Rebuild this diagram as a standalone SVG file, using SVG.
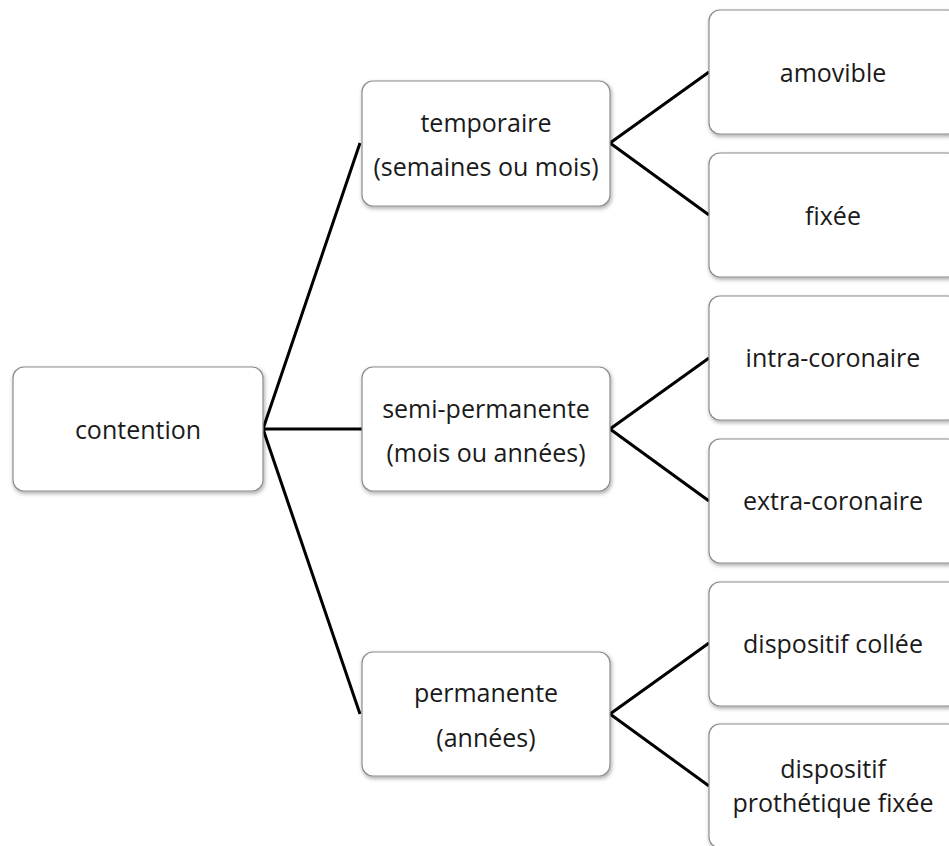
<svg xmlns="http://www.w3.org/2000/svg" width="949" height="846" viewBox="0 0 949 846">
<style>
.box{fill:#fff;stroke:#8c8c8c;stroke-width:1.2;filter:url(#sh)}
.t{font-family:"Open Sans","Noto Sans",sans-serif;font-size:25px;fill:#1a1a1a;text-anchor:middle;dominant-baseline:central}
.c{stroke:#000;stroke-width:3;fill:none}
</style>
<defs>
<filter id="sh" x="-10%" y="-10%" width="120%" height="125%">
<feGaussianBlur in="SourceAlpha" stdDeviation="2"/>
<feOffset dx="1" dy="2" result="b"/>
<feComponentTransfer><feFuncA type="linear" slope="0.35"/></feComponentTransfer>
<feMerge><feMergeNode/><feMergeNode in="SourceGraphic"/></feMerge>
</filter>
</defs>
<rect width="949" height="846" fill="#fff"/>
<g id="connectors">
<path class="c" d="M263 429 L360 143 M263 429 L362 429 M263 429 L360 714"/>
<path class="c" d="M610 143 L709 72 M610 143 L709 215"/>
<path class="c" d="M610 429 L709 358 M610 429 L709 501"/>
<path class="c" d="M610 714 L709 643 M610 714 L709 786"/>
</g>
<g id="contention"><rect class="box" x="13" y="367" width="250" height="124" rx="11"/><text class="t" x="138" y="429">contention</text></g>
<g id="temporaire"><rect class="box" x="362" y="81" width="248" height="125" rx="11"/><text class="t" x="486" y="122">temporaire</text><text class="t" x="486" y="166">(semaines ou mois)</text></g>
<g id="semi"><rect class="box" x="362" y="367" width="248" height="124" rx="11"/><text class="t" x="486" y="408">semi-permanente</text><text class="t" x="486" y="452">(mois ou années)</text></g>
<g id="permanente"><rect class="box" x="362" y="652" width="248" height="124" rx="11"/><text class="t" x="486" y="692">permanente</text><text class="t" x="486" y="737">(années)</text></g>
<g id="amovible"><rect class="box" x="709" y="10" width="250" height="124" rx="11"/><text class="t" x="833" y="72">amovible</text></g>
<g id="fixee"><rect class="box" x="709" y="153" width="250" height="124" rx="11"/><text class="t" x="833" y="215">fixée</text></g>
<g id="intra"><rect class="box" x="709" y="296" width="250" height="124" rx="11"/><text class="t" x="833" y="357">intra-coronaire</text></g>
<g id="extra"><rect class="box" x="709" y="439" width="250" height="124" rx="11"/><text class="t" x="833" y="500">extra-coronaire</text></g>
<g id="collee"><rect class="box" x="709" y="582" width="250" height="124" rx="11"/><text class="t" x="833" y="643">dispositif collée</text></g>
<g id="prothetique"><rect class="box" x="709" y="724" width="250" height="124" rx="11"/><text class="t" x="833" y="768">dispositif</text><text class="t" x="833" y="802">prothétique fixée</text></g>
</svg>
